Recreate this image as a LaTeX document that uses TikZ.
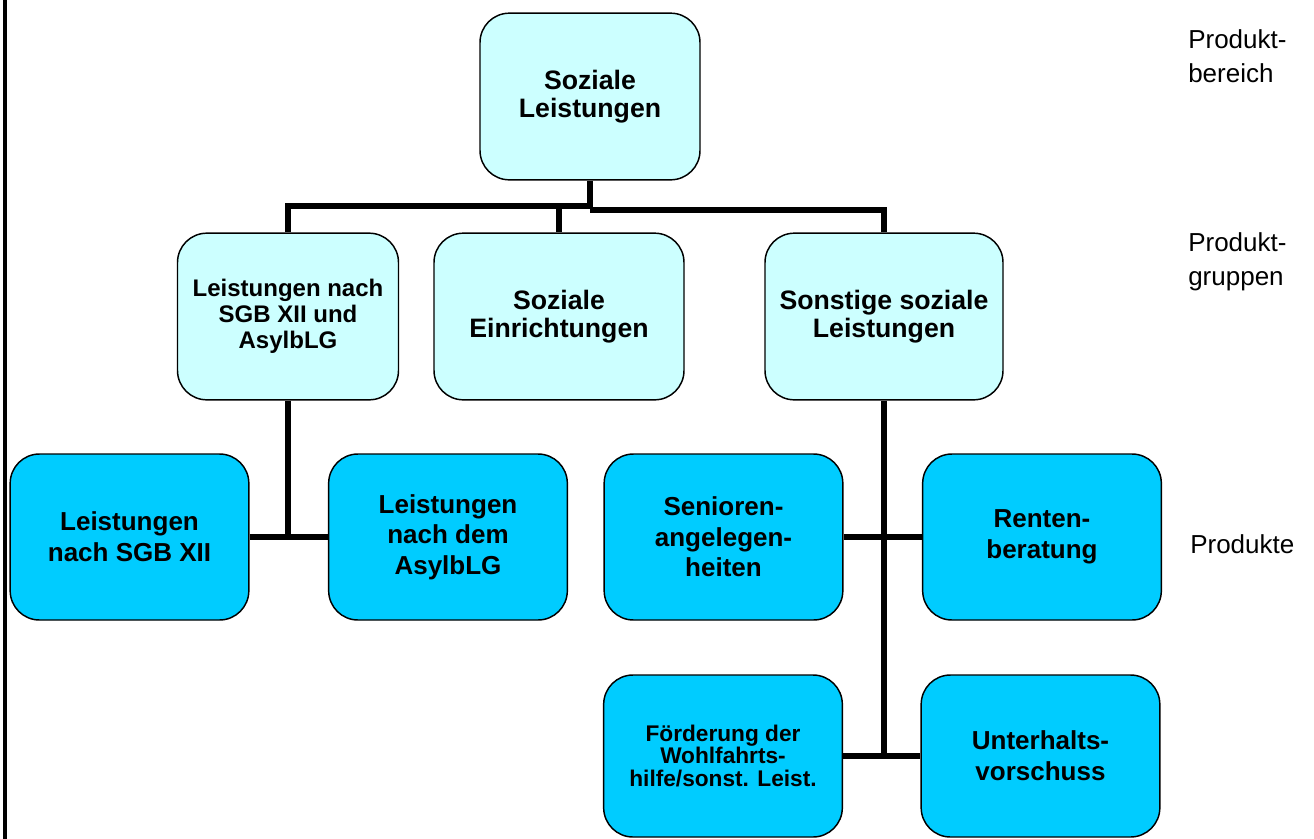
\documentclass[tikz,border=0pt]{standalone}
\usepackage{fontspec}
\setmainfont{Liberation Sans}
\usepackage{xcolor}
\usetikzlibrary{calc}
\definecolor{lightcyan}{HTML}{CCFFFF}
\definecolor{skyblue}{HTML}{00CCFF}

\begin{document}
\begin{tikzpicture}[x=0.75pt,y=-0.75pt,
  box/.style={draw, line width=1.1pt, rounded corners=22pt, align=center, inner sep=0pt},
  light/.style={box, fill=lightcyan, minimum height=125pt, font=\bfseries\fontsize{20}{20.5}\selectfont},
  dark/.style={box, fill=skyblue, minimum width=179pt, minimum height=124.5pt, font=\bfseries\fontsize{19.5}{23}\selectfont},
  link/.style={line width=4.5pt},
  level/.style={anchor=north west, align=left, inner sep=0pt, font=\fontsize{19.5}{26}\selectfont}]
\useasboundingbox (0,0) rectangle (1314,839);
\draw[line width=2.3pt] (5,0) -- (5,839);
% Produktbereich
\node[light, minimum width=165pt] (soz) at (590,96.5) {Soziale\\Leistungen};
% Produktgruppen
\node[light, minimum width=165.75pt, font=\bfseries\fontsize{18}{19.5}\selectfont] (sgb) at (288,316.5) {Leistungen nach\\SGB XII und\\AsylbLG};
\node[light, minimum width=187.5pt] (einr) at (559,316.5) {Soziale\\Einrichtungen};
\node[light, minimum width=178.5pt] (sonst) at (884,316.5) {Sonstige soziale\\Leistungen};
% Produkte
\node[dark] (xii) at (129.5,537) {Leistungen\\nach SGB XII};
\node[dark] (asyl) at (448,537) {Leistungen\\nach dem\\AsylbLG};
\node[dark] (senior) at (723.5,537) {Senioren-\\angelegen-\\heiten};
\node[dark] (rente) at (1042,537) {Renten-\\beratung};
\node[dark, minimum height=121.5pt, font=\bfseries\fontsize{17}{17}\selectfont] (foerd) at (723,756) {F\"orderung der\\Wohlfahrts-\\hilfe/sonst. Leist.};
\node[dark, minimum height=121.5pt] (unter) at (1040.5,756) {Unterhalts-\\vorschuss};

\coordinate (fork) at (590,208);
\draw[link] (soz.south) -- (fork);
\draw[link] (sgb.north) |- ($(fork)+(0,-2)$);
\draw[link] (sonst.north) |- ($(fork)+(0,2)$);
\draw[link] (einr.north) -- ++(0,-27);
\draw[link] (sgb.south) -- (sgb.south |- xii.east);
\draw[link] (xii.east) -- (asyl.west);
\draw[link] (sonst.south) -- (sonst.south |- foerd.east);
\draw[link] (senior.east) -- (rente.west);
\draw[link] (foerd.east) -- (unter.west);

\node[level] (bereich) at (1188,29) {Produkt-\\bereich};
\node[level] (gruppen) at (1188,232) {Produkt-\\gruppen};
\node[level] (produkte) at (1190,534) {Produkte};
\end{tikzpicture}
\end{document}
